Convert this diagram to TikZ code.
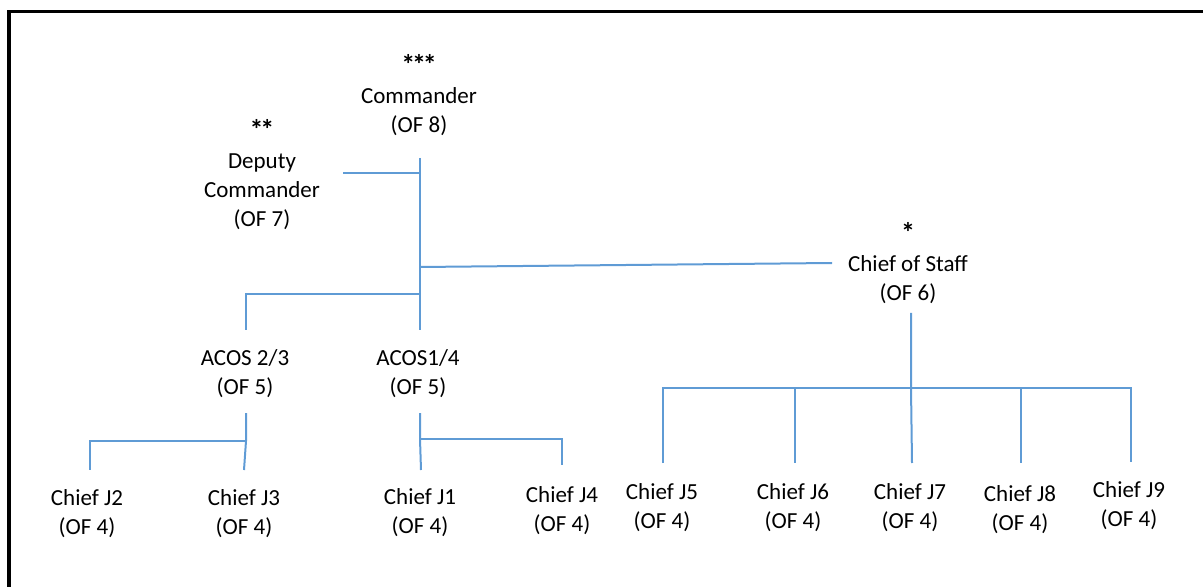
\documentclass[tikz,border=0pt]{standalone}
\usepackage{fontspec}
\setmainfont{Carlito}
\definecolor{lineblue}{RGB}{95,155,213}
\newcommand{\rankstar}{{\fontsize{14pt}{14.5pt}\bfseries *}}
\newcommand{\starkern}{\kern-1.6pt}
\begin{document}
\begin{tikzpicture}[x=0.5pt,y=-0.5pt,
  unit/.style={align=center,inner sep=0pt,font=\fontsize{11.5pt}{14.5pt}\selectfont},
  conn/.style={draw=lineblue,line width=1pt},
  frame/.style={draw=black,line width=1.6pt}]
\useasboundingbox (0,0) rectangle (1203,587);
% frame (top and left edges visible)
\coordinate (fTR) at (1203,11.5);
\coordinate (fTL) at (9,11.5);
\coordinate (fBL) at (9,587);
\draw[frame] (fTR) -- (fTL) -- (fBL);

% units
\node[unit] (cmd) at (419,95) {\rankstar\starkern\rankstar\starkern\rankstar\\Commander\\(OF 8)};
\node[unit] (dep) at (262,175) {\rankstar\starkern\rankstar\\Deputy\\Commander\\(OF 7)};
\node[unit] (cos) at (908,263) {\rankstar\\Chief of Staff\\(OF 6)};
\node[unit] (a23) at (245,374) {ACOS 2/3\\(OF 5)};
\node[unit] (a14) at (418,374) {ACOS1/4\\(OF 5)};
\node[unit] (j2) at (87,514) {Chief J2\\(OF 4)};
\node[unit] (j3) at (244,514) {Chief J3\\(OF 4)};
\node[unit] (j1) at (420,513) {Chief J1\\(OF 4)};
\node[unit] (j4) at (562,511) {Chief J4\\(OF 4)};
\node[unit] (j5) at (662,508) {Chief J5\\(OF 4)};
\node[unit] (j6) at (793,508) {Chief J6\\(OF 4)};
\node[unit] (j7) at (910,508) {Chief J7\\(OF 4)};
\node[unit] (j8) at (1020,510) {Chief J8\\(OF 4)};
\node[unit] (j9) at (1129,506) {Chief J9\\(OF 4)};

% connector end points
\coordinate (cmdB) at (420,158);
\coordinate (cmdE) at (420,330);
\coordinate (depR) at (343,173);
\coordinate (depJ) at (420,173);
\coordinate (cosJ) at (420,267);
\coordinate (cosL) at (832,263);
\coordinate (acJ) at (420,294);
\coordinate (acL) at (246,294);
\coordinate (a23T) at (246,330);
\coordinate (a23B) at (246,413);
\coordinate (a23J) at (246,441);
\coordinate (j3T) at (244,470);
\coordinate (j2C) at (90,441);
\coordinate (j2T) at (90,470);
\coordinate (a14B) at (420,413);
\coordinate (a14J) at (420,439);
\coordinate (j1T) at (421,470);
\coordinate (j4C) at (562,439);
\coordinate (j4T) at (562,465);
\coordinate (cosB) at (911,313);
\coordinate (cosJ2) at (911,388);
\coordinate (j5C) at (663,388);
\coordinate (j5T) at (663,463);
\coordinate (j6C) at (795,388);
\coordinate (j6T) at (795,463);
\coordinate (j7T) at (912,463);
\coordinate (j8C) at (1021,388);
\coordinate (j8T) at (1021,463);
\coordinate (j9C) at (1131,388);
\coordinate (j9T) at (1131,462);

% connectors
\draw[conn] (cmdB) -- (cmdE);
\draw[conn] (depR) -- (depJ);
\draw[conn] (cosJ) -- (cosL);
\draw[conn] (acJ) -- (acL) -- (a23T);
\draw[conn] (a23B) -- (a23J) -- (j3T);
\draw[conn] (a23J) -- (j2C) -- (j2T);
\draw[conn] (a14B) -- (a14J) -- (j1T);
\draw[conn] (a14J) -- (j4C) -- (j4T);
\draw[conn] (cosB) -- (cosJ2) -- (j7T);
\draw[conn] (j5T) -- (j5C) -- (j9C) -- (j9T);
\draw[conn] (j6C) -- (j6T);
\draw[conn] (j8C) -- (j8T);
\end{tikzpicture}
\end{document}
